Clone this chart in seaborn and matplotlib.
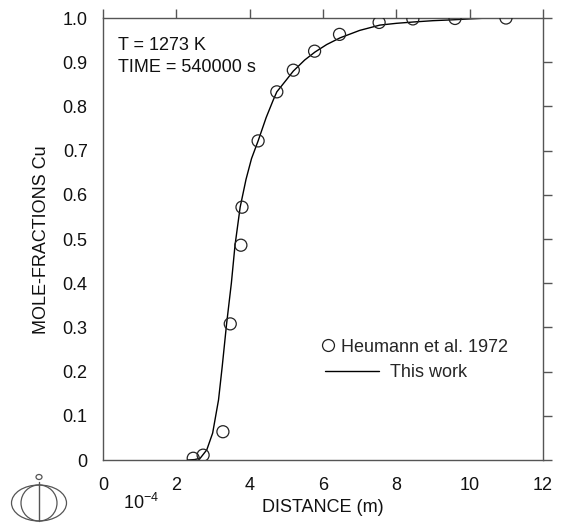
import numpy as np
import pandas as pd
import matplotlib
matplotlib.use("Agg")
import matplotlib.pyplot as plt
from matplotlib.patches import Ellipse, Circle
from matplotlib.lines import Line2D
import seaborn as sns

# --- data (distance in units of 1e-4 m) ---
exp_x = [2.46, 2.73, 3.27, 3.47, 3.76, 3.79, 4.23, 4.74, 5.19, 5.77, 6.45, 7.53, 8.45, 9.6, 10.99]
exp_y = [0.004, 0.011, 0.064, 0.308, 0.486, 0.572, 0.722, 0.833, 0.882, 0.925, 0.963, 0.990, 0.998, 0.999, 1.0]

calc_x = [2.3, 2.5, 2.65, 2.83, 2.99, 3.15, 3.25, 3.37, 3.5, 3.6, 3.74, 3.9, 4.05, 4.23,
          4.45, 4.64, 4.74, 5.0, 5.19, 5.5, 5.78, 6.1, 6.46, 7.0, 7.55, 8.0, 8.46, 9.0,
          9.55, 10.0, 10.5]
calc_y = [0.0, 0.001, 0.004, 0.023, 0.061, 0.136, 0.211, 0.308, 0.40, 0.486, 0.572, 0.635,
          0.682, 0.722, 0.775, 0.814, 0.833, 0.860, 0.880, 0.905, 0.923, 0.940, 0.955,
          0.972, 0.984, 0.988, 0.991, 0.994, 0.996, 0.998, 1.0]

x_ticks = [0, 2, 4, 6, 8, 10, 12]
y_ticks = [0, 0.1, 0.2, 0.3, 0.4, 0.5, 0.6, 0.7, 0.8, 0.9, 1.0]
y_ticklabels = ["0", "0.1", "0.2", "0.3", "0.4", "0.5", "0.6", "0.7", "0.8", "0.9", "1.0"]

sns.set_style("white")
plt.rcParams['font.family'] = ['Liberation Sans', 'DejaVu Sans']
FS = 13
AX_COL = '#555555'

fig = plt.figure(figsize=(5.67, 5.24), dpi=100)
ax = fig.add_axes([0.1817, 0.1221, 0.9577 - 0.1817, 0.9656 - 0.1221])

exp_df = pd.DataFrame({"x": exp_x, "y": exp_y})
calc_df = pd.DataFrame({"x": calc_x, "y": calc_y})

sns.lineplot(data=calc_df, x="x", y="y", ax=ax, color='black', linewidth=1.0,
             sort=False, estimator=None)
sns.scatterplot(data=exp_df, x="x", y="y", ax=ax, marker='o', s=75,
                facecolor='none', edgecolor='#222222', linewidth=0.9, zorder=3)

ax.set_xlim(0, 12)
ax.set_ylim(0, 1.0)
ax.set_xticks(x_ticks)
ax.set_xticklabels([str(t) for t in x_ticks], fontsize=FS)
ax.set_yticks(y_ticks)
ax.set_yticklabels(y_ticklabels, fontsize=FS)
ax.tick_params(axis='both', which='both', direction='out', length=6.5, width=1.0,
               color=AX_COL, labelcolor='#111111', top=True, right=True,
               labeltop=False, labelright=False)
ax.tick_params(axis='x', pad=5.5)
ax.tick_params(axis='y', pad=4.5)
for sp in ax.spines.values():
    sp.set_visible(True)
    sp.set_color(AX_COL)
    sp.set_linewidth(1.0)

ax.set_xlabel("")
ax.set_ylabel("")
fig.text(323 / 567, 1 - 508 / 524, "DISTANCE (m)", ha='center', va='center',
         fontsize=FS, color='#111111')
fig.text(42 / 567, 1 - 240 / 524, "MOLE-FRACTIONS Cu", ha='center', va='center',
         rotation=90, fontsize=FS, color='#111111')
fig.text(123 / 567, 1 - 503 / 524, r"$\mathregular{10^{-4}}$", ha='left', va='center',
         fontsize=FS, color='#111111')

ax.text(0.033, 0.937, "T = 1273 K", transform=ax.transAxes, fontsize=FS,
        ha='left', va='center', color='#111111')
ax.text(0.033, 0.888, "TIME = 540000 s", transform=ax.transAxes, fontsize=FS,
        ha='left', va='center', color='#111111')

# legends
h1 = Line2D([], [], marker='o', linestyle='none', markersize=8.6,
            markerfacecolor='none', markeredgecolor='#222222', markeredgewidth=0.9)
h2 = Line2D([], [], color='black', linewidth=1.0)
leg1 = ax.legend([h1], ["Heumann et al. 1972"], loc='center left',
                 bbox_to_anchor=(0.50, 0.255), frameon=False, fontsize=FS,
                 handlelength=0.6, handletextpad=0.4, borderpad=0, borderaxespad=0)
ax.add_artist(leg1)
leg2 = ax.legend([h2], ["This work"], loc='center left',
                 bbox_to_anchor=(0.505, 0.197), frameon=False, fontsize=FS,
                 handlelength=3.0, handletextpad=0.6, borderpad=0, borderaxespad=0)

# logo
W, H = 567.0, 524.0
def fx(px):
    return px / W
def fy(py):
    return 1 - py / H
logo_col = '#555555'
fig.add_artist(Ellipse((fx(39), fy(503)), 55 / W, 36 / H, transform=fig.transFigure,
                       fill=False, edgecolor=logo_col, linewidth=0.9))
fig.add_artist(Ellipse((fx(39), fy(503)), 36 / W, 36 / H, transform=fig.transFigure,
                       fill=False, edgecolor=logo_col, linewidth=0.9))
fig.add_artist(Line2D([fx(39), fx(39)], [fy(482), fy(521)], transform=fig.transFigure,
                      color=logo_col, linewidth=1.0))
fig.add_artist(Ellipse((fx(39), fy(477)), 6 / W, 5 / H, transform=fig.transFigure,
                       fill=False, edgecolor=logo_col, linewidth=0.9))

fig.savefig("out.png", dpi=100)
